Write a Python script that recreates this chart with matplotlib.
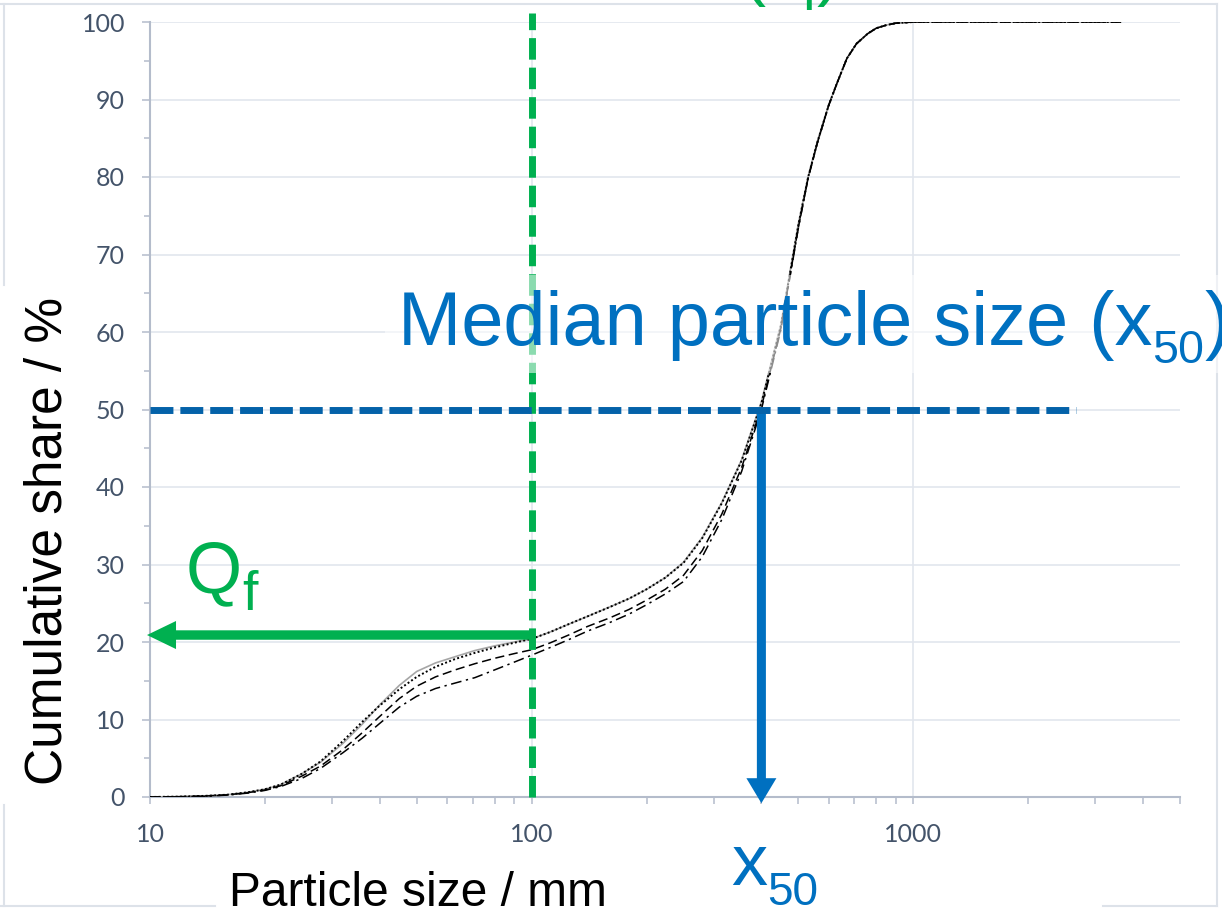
import matplotlib
matplotlib.use("Agg")
import matplotlib.pyplot as plt
from matplotlib.transforms import IdentityTransform
from matplotlib.lines import Line2D
from matplotlib.patches import Rectangle

# ----------------------------
# Data
# ----------------------------
size_mm = [10, 12, 14, 16, 18, 20, 22, 25, 28, 32, 36, 40, 45, 50, 56, 63, 71, 80, 90,
           100, 112, 125, 140, 160, 180, 200, 224, 250, 280, 315, 355, 400, 450, 500,
           530, 560, 600, 630, 670, 710, 760, 800, 850, 900, 1000, 1250, 1600, 2000,
           2500, 3150, 3500]

share_solid = [0, 0.05, 0.15, 0.3, 0.6, 1.0, 1.6, 3.0, 4.5, 6.9, 9.4, 11.9, 14.4, 16.2, 17.3,
               18.1, 18.9, 19.5, 20.0, 20.4, 21.3, 22.3, 23.3, 24.5, 25.6, 26.8, 28.3, 30.3,
               33.5, 38.0, 43.5, 51.0, 61.0, 74.0, 80.0, 84.5, 89.3, 92.0, 95.3, 97.2, 98.5,
               99.2, 99.6, 99.85, 100, 100, 100, 100, 100, 100, 100]
share_dotted = [0, 0.05, 0.15, 0.3, 0.6, 1.0, 1.6, 3.0, 4.6, 7.2, 9.7, 11.8, 13.9, 15.5, 16.8,
                17.8, 18.6, 19.3, 19.9, 20.4, 21.3, 22.3, 23.3, 24.5, 25.6, 26.8, 28.3, 30.2,
                33.4, 37.9, 43.4, 50.8, 60.8, 73.8, 79.9, 84.4, 89.2, 92.0, 95.3, 97.2, 98.5,
                99.2, 99.6, 99.85, 100, 100, 100, 100, 100, 100, 100]
share_dashed = [0, 0.04, 0.13, 0.28, 0.55, 0.9, 1.45, 2.7, 4.0, 6.1, 8.3, 10.4, 12.7, 14.3, 15.5,
                16.4, 17.2, 17.9, 18.5, 19.0, 19.9, 20.9, 22.0, 23.1, 24.2, 25.4, 26.8, 28.6,
                31.8, 36.5, 42.5, 50.3, 60.5, 73.5, 79.8, 84.3, 89.2, 92.0, 95.3, 97.2, 98.5,
                99.2, 99.6, 99.85, 100, 100, 100, 100, 100, 100, 100]
share_dashdot = [0, 0.03, 0.1, 0.25, 0.5, 0.85, 1.35, 2.4, 3.7, 5.7, 7.6, 9.5, 11.6, 13.0, 14.0,
                 14.7, 15.4, 16.4, 17.4, 18.3, 19.3, 20.3, 21.4, 22.5, 23.6, 24.8, 26.2, 27.8,
                 31.0, 35.8, 42.0, 50.0, 60.3, 73.4, 79.8, 84.3, 89.2, 92.0, 95.3, 97.2, 98.5,
                 99.2, 99.6, 99.85, 100, 100, 100, 100, 100, 100, 100]

x_fines = 100      # fines boundary
q_fines = 20.9     # fines share at boundary
x50 = 400          # median size
median_end = 2670  # end of the 50 % guide line

x_major = [10, 100, 1000]
x_major_labels = ["10", "100", "1000"]
x_minor = [20, 30, 40, 50, 60, 70, 80, 90, 200, 300, 400, 500, 600, 700, 800, 900,
           2000, 3000, 4000, 5000]
y_major = [0, 10, 20, 30, 40, 50, 60, 70, 80, 90, 100]
y_minor = [5, 15, 25, 35, 45, 55, 65, 75, 85, 95]

# ----------------------------
# Style
# ----------------------------
green = "#00B050"
blue = "#0070C0"
blue_dark = "#0462A9"
axis_grey = "#B4BCCB"
grid_grey = "#E2E6ED"
tick_text = "#44546A"

plt.rcParams["font.family"] = ["Liberation Sans", "DejaVu Sans"]

W, H = 1222, 908
fig = plt.figure(figsize=(W / 100, H / 100), dpi=100)
ax = fig.add_axes([150 / W, 1 - 797 / H, (1180 - 150) / W, (797 - 22) / H])

# ----------------------------
# Curves
# ----------------------------
ax.plot(size_mm, share_solid, color="#A6A6A6", lw=1.2, zorder=3)
ax.plot(size_mm, share_dotted, color="black", lw=1.4, linestyle=(0, (1, 1.2)), zorder=3)
ax.plot(size_mm, share_dashed, color="black", lw=1.1, linestyle=(0, (6, 3)), zorder=3)
ax.plot(size_mm, share_dashdot, color="black", lw=1.1, linestyle=(0, (7, 3, 1.5, 3)), zorder=3)

ax.set_xscale("log")
ax.set_xlim(10, 5000)
ax.set_ylim(0, 100)

ax.set_xticks(x_major)
ax.set_xticklabels(x_major_labels)
ax.set_xticks(x_minor, minor=True)
ax.set_xticklabels([], minor=True)
ax.set_yticks(y_major)
ax.set_yticks(y_minor, minor=True)

for lab in ax.get_xticklabels() + ax.get_yticklabels():
    lab.set_fontfamily(["Lato", "DejaVu Sans"])
ax.tick_params(which="both", direction="out", color=axis_grey, width=1.1,
               labelcolor=tick_text, labelsize=18)
ax.tick_params(axis="x", which="both", length=5, pad=14)
ax.tick_params(axis="y", which="major", length=6, pad=12)
ax.tick_params(axis="y", which="minor", length=4)

for s in ["top", "right"]:
    ax.spines[s].set_visible(False)
for s in ["left", "bottom"]:
    ax.spines[s].set_color(axis_grey)
    ax.spines[s].set_linewidth(1.5)

ax.grid(True, which="major", color=grid_grey, lw=1.2, zorder=0)
ax.set_axisbelow(True)

# ----------------------------
# Guide lines and arrows
# ----------------------------
ax.plot([x_fines, x_fines], [0, 101.2], color=green, lw=5, dashes=(3.1, 1.15),
        dash_capstyle="butt", clip_on=False, zorder=5)
ax.plot([10, median_end], [50, 50], color=blue_dark, lw=5, dashes=(3.3, 1.0),
        dash_capstyle="butt", clip_on=False, zorder=5)

ax.annotate("", xy=(9.82, q_fines), xytext=(x_fines, q_fines), annotation_clip=False,
            arrowprops=dict(arrowstyle="simple,head_length=2.09,head_width=2.02,tail_width=0.68",
                            mutation_scale=10, fc=green, ec="none", lw=0,
                            shrinkA=0, shrinkB=0, clip_on=False, zorder=6))
ax.annotate("", xy=(x50, -0.8), xytext=(x50, 50), annotation_clip=False,
            arrowprops=dict(arrowstyle="simple,head_length=1.8,head_width=2.16,tail_width=0.65",
                            mutation_scale=10, fc=blue, ec="none", lw=0,
                            shrinkA=0, shrinkB=0, clip_on=False, zorder=6))

# ----------------------------
# Texts (pixel positions, top-left origin)
# ----------------------------
ident = IdentityTransform()
renderer = fig.canvas.get_renderer()


def put_pieces(x, y_base, pieces, color):
    # draws text pieces one after the other, (text, size, drop in px)
    for s, size, drop in pieces:
        t = fig.text(x, H - (y_base + drop), s, fontsize=size, color=color,
                     transform=ident, ha="left", va="baseline", zorder=10)
        x = t.get_window_extent(renderer).x1


# semi transparent box behind the median label
fig.add_artist(Rectangle((385, H - 373), 840, 98, transform=ident,
                         fc="white", ec="none", alpha=0.55, zorder=8))

put_pieces(398, 345, [("Median particle size (x", 54.5, 0), ("50", 33.5, 18), (")", 54.5, 0)], blue)
put_pieces(186, 592, [("Q", 52, 0), ("f", 40, 18)], green)
put_pieces(731, 885, [("x", 52, 0), ("50", 33, 20)], blue)

fig.text(741, H + 8, "Fines cut size ", fontsize=52, color=green, transform=ident,
         ha="right", va="baseline")
put_pieces(741, -8, [("(x", 52, 0), ("f", 40, 18), (")", 52, 0)], green)

fig.text(229, H - 906, "Particle size / mm", fontsize=34.5, color="black",
         transform=ident, ha="left", va="baseline")
fig.text(62, H - 541, "Cumulative share / %", fontsize=37, color="black", rotation=90,
         rotation_mode="anchor", transform=ident, ha="center", va="baseline")

# faint outer frame of the slide object
frame = "#DDE2E9"
for xs, ys in [([0, 1217], [4, 4]), ([1217, 1217], [4, 906]), ([4, 4], [4, 285]),
               ([4, 4], [805, 906]), ([0, 215], [906, 906]), ([1103, 1217], [906, 906])]:
    fig.add_artist(Line2D(xs, [H - y for y in ys], transform=ident, color=frame, lw=1.5))

fig.savefig("out.png", dpi=100)
plt.close(fig)
